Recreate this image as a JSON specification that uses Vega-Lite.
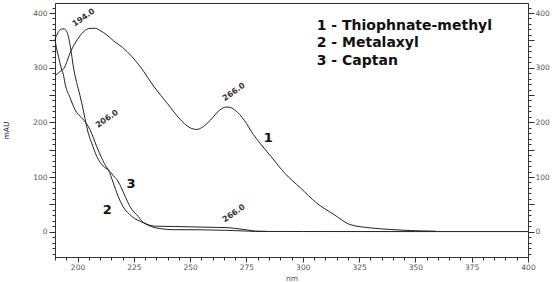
{
  "$schema": "https://vega.github.io/schema/vega-lite/v6.json",
  "width": 473,
  "height": 254,
  "autosize": {"type": "none"},
  "padding": {"left": 55, "top": 3, "right": 28, "bottom": 25},
  "background": "white",
  "config": {
    "view": {"stroke": "#333", "strokeWidth": 1},
    "axis": {
      "grid": false,
      "domainColor": "#333",
      "tickColor": "#333",
      "labelFont": "DejaVu Sans",
      "labelFontSize": 7.5,
      "labelColor": "#555",
      "labelOverlap": false,
      "labelBound": false,
      "labelFlush": false
    }
  },
  "datasets": {
    "spectra": [
      {"nm": 190, "mAU": 285, "series": "1"},
      {"nm": 192, "mAU": 292, "series": "1"},
      {"nm": 194, "mAU": 299, "series": "1"},
      {"nm": 197, "mAU": 330, "series": "1"},
      {"nm": 200, "mAU": 352, "series": "1"},
      {"nm": 202, "mAU": 363, "series": "1"},
      {"nm": 204, "mAU": 370, "series": "1"},
      {"nm": 206, "mAU": 372, "series": "1"},
      {"nm": 208, "mAU": 372, "series": "1"},
      {"nm": 210, "mAU": 368, "series": "1"},
      {"nm": 213, "mAU": 360, "series": "1"},
      {"nm": 216, "mAU": 349, "series": "1"},
      {"nm": 220, "mAU": 337, "series": "1"},
      {"nm": 224, "mAU": 321, "series": "1"},
      {"nm": 228, "mAU": 301, "series": "1"},
      {"nm": 234, "mAU": 265, "series": "1"},
      {"nm": 240, "mAU": 234, "series": "1"},
      {"nm": 245, "mAU": 208, "series": "1"},
      {"nm": 250, "mAU": 190, "series": "1"},
      {"nm": 253, "mAU": 187, "series": "1"},
      {"nm": 255, "mAU": 190, "series": "1"},
      {"nm": 259, "mAU": 204, "series": "1"},
      {"nm": 263, "mAU": 222, "series": "1"},
      {"nm": 266, "mAU": 228, "series": "1"},
      {"nm": 268, "mAU": 227, "series": "1"},
      {"nm": 270, "mAU": 222, "series": "1"},
      {"nm": 274, "mAU": 204, "series": "1"},
      {"nm": 278, "mAU": 178, "series": "1"},
      {"nm": 281, "mAU": 162, "series": "1"},
      {"nm": 286, "mAU": 137, "series": "1"},
      {"nm": 292, "mAU": 107, "series": "1"},
      {"nm": 299, "mAU": 80, "series": "1"},
      {"nm": 306, "mAU": 53, "series": "1"},
      {"nm": 314, "mAU": 31, "series": "1"},
      {"nm": 321, "mAU": 13, "series": "1"},
      {"nm": 330, "mAU": 7, "series": "1"},
      {"nm": 339, "mAU": 4, "series": "1"},
      {"nm": 348, "mAU": 2, "series": "1"},
      {"nm": 359, "mAU": 1, "series": "1"},

      {"nm": 190, "mAU": 352, "series": "2"},
      {"nm": 190.8, "mAU": 333, "series": "2"},
      {"nm": 191.5, "mAU": 321, "series": "2"},
      {"nm": 193, "mAU": 296, "series": "2"},
      {"nm": 193.7, "mAU": 288, "series": "2"},
      {"nm": 194.4, "mAU": 272, "series": "2"},
      {"nm": 196.7, "mAU": 245, "series": "2"},
      {"nm": 198.9, "mAU": 223, "series": "2"},
      {"nm": 201.9, "mAU": 208, "series": "2"},
      {"nm": 203, "mAU": 203, "series": "2"},
      {"nm": 205.5, "mAU": 187, "series": "2"},
      {"nm": 208.5, "mAU": 156, "series": "2"},
      {"nm": 210.7, "mAU": 135, "series": "2"},
      {"nm": 213, "mAU": 117, "series": "2"},
      {"nm": 213.7, "mAU": 113, "series": "2"},
      {"nm": 215.8, "mAU": 90, "series": "2"},
      {"nm": 218, "mAU": 65, "series": "2"},
      {"nm": 220.2, "mAU": 46, "series": "2"},
      {"nm": 224.1, "mAU": 28, "series": "2"},
      {"nm": 229.1, "mAU": 16.5, "series": "2"},
      {"nm": 233, "mAU": 9, "series": "2"},
      {"nm": 237, "mAU": 5.5, "series": "2"},
      {"nm": 242, "mAU": 3.7, "series": "2"},
      {"nm": 254, "mAU": 3.5, "series": "2"},
      {"nm": 266, "mAU": 2.5, "series": "2"},
      {"nm": 276, "mAU": 1, "series": "2"},
      {"nm": 279, "mAU": 0.5, "series": "2"},
      {"nm": 300, "mAU": 0.3, "series": "2"},
      {"nm": 350, "mAU": 0.2, "series": "2"},
      {"nm": 400, "mAU": 0.2, "series": "2"},

      {"nm": 190, "mAU": 352, "series": "3"},
      {"nm": 191.3, "mAU": 364, "series": "3"},
      {"nm": 192.5, "mAU": 370, "series": "3"},
      {"nm": 194, "mAU": 371, "series": "3"},
      {"nm": 195.2, "mAU": 366, "series": "3"},
      {"nm": 196, "mAU": 356, "series": "3"},
      {"nm": 197, "mAU": 334, "series": "3"},
      {"nm": 198.1, "mAU": 303, "series": "3"},
      {"nm": 199.6, "mAU": 273, "series": "3"},
      {"nm": 200.3, "mAU": 262, "series": "3"},
      {"nm": 201.9, "mAU": 235, "series": "3"},
      {"nm": 203.3, "mAU": 207, "series": "3"},
      {"nm": 204.8, "mAU": 180, "series": "3"},
      {"nm": 206.3, "mAU": 162, "series": "3"},
      {"nm": 208.5, "mAU": 138, "series": "3"},
      {"nm": 211.4, "mAU": 120, "series": "3"},
      {"nm": 213.7, "mAU": 113, "series": "3"},
      {"nm": 216, "mAU": 102, "series": "3"},
      {"nm": 218, "mAU": 92, "series": "3"},
      {"nm": 219.5, "mAU": 80, "series": "3"},
      {"nm": 221.1, "mAU": 65, "series": "3"},
      {"nm": 223.3, "mAU": 46, "series": "3"},
      {"nm": 226.9, "mAU": 28, "series": "3"},
      {"nm": 229.2, "mAU": 17, "series": "3"},
      {"nm": 235, "mAU": 10, "series": "3"},
      {"nm": 243, "mAU": 9.5, "series": "3"},
      {"nm": 254, "mAU": 8.5, "series": "3"},
      {"nm": 262, "mAU": 7.8, "series": "3"},
      {"nm": 266, "mAU": 7.5, "series": "3"},
      {"nm": 270, "mAU": 6, "series": "3"},
      {"nm": 275, "mAU": 3.5, "series": "3"},
      {"nm": 279, "mAU": 1, "series": "3"},
      {"nm": 284, "mAU": 0.5, "series": "3"}
    ],
    "peaks": [
      {"nm": 202.8, "mAU": 391, "label": "194.0"},
      {"nm": 213.2, "mAU": 206, "label": "206.0"},
      {"nm": 269.5, "mAU": 255, "label": "266.0"},
      {"nm": 269.5, "mAU": 33, "label": "266.0"}
    ],
    "curveNumbers": [
      {"nm": 284.7, "mAU": 171, "label": "1"},
      {"nm": 213.2, "mAU": 40, "label": "2"},
      {"nm": 223.7, "mAU": 87, "label": "3"}
    ],
    "legend": [
      {"nm": 306.2, "mAU": 375.5, "label": "1 - Thiophnate-methyl"},
      {"nm": 306.2, "mAU": 345, "label": "2 - Metalaxyl"},
      {"nm": 306.2, "mAU": 312.8, "label": "3 - Captan"}
    ]
  },
  "layer": [
    {
      "data": {"name": "spectra"},
      "mark": {"type": "line", "color": "#222", "strokeWidth": 1, "interpolate": "monotone"},
      "encoding": {
        "x": {
          "field": "nm",
          "type": "quantitative",
          "scale": {"domain": [190, 400], "nice": false, "zero": false},
          "axis": {
            "orient": "bottom",
            "values": [190,195,200,205,210,215,220,225,230,235,240,245,250,255,260,265,270,275,280,285,290,295,300,305,310,315,320,325,330,335,340,345,350,355,360,365,370,375,380,385,390,395,400],
            "labelExpr": "datum.value % 25 === 0 && datum.value > 190 ? datum.label : ''",
            "tickSize": {"condition": {"test": "datum.value % 25 === 0", "value": 5}, "value": 3},
            "labelPadding": 1,
            "title": "nm",
            "titleFont": "DejaVu Sans",
            "titleFontSize": 7.5,
            "titleFontWeight": "normal",
            "titleColor": "#555",
            "titlePadding": 4
          }
        },
        "y": {
          "field": "mAU",
          "type": "quantitative",
          "scale": {"domain": [-46.3, 418.3], "nice": false, "zero": false},
          "axis": {
            "orient": "left",
            "values": [-40,-30,-20,-10,0,10,20,30,40,50,60,70,80,90,100,110,120,130,140,150,160,170,180,190,200,210,220,230,240,250,260,270,280,290,300,310,320,330,340,350,360,370,380,390,400,410],
            "labelExpr": "datum.value % 100 === 0 ? datum.label : ''",
            "tickSize": {"condition": {"test": "datum.value % 50 === 0", "value": 6}, "value": 3},
            "labelPadding": 2,
            "title": "mAU",
            "titleFont": "DejaVu Sans",
            "titleFontSize": 7.5,
            "titleFontWeight": "normal",
            "titleColor": "#223",
            "titleX": -49,
            "titleY": 127,
            "titleAngle": -90,
            "titleAlign": "center",
            "titleBaseline": "middle"
          }
        },
        "detail": {"field": "series"}
      }
    },
    {
      "data": {"name": "peaks"},
      "mark": {"type": "text", "font": "DejaVu Sans", "fontSize": 8, "fontWeight": "bold", "color": "#333", "angle": 325, "align": "center", "baseline": "middle"},
      "encoding": {
        "x": {"field": "nm", "type": "quantitative", "axis": null},
        "y": {
          "field": "mAU",
          "type": "quantitative",
          "axis": {
            "orient": "right",
            "values": [-40,-30,-20,-10,0,10,20,30,40,50,60,70,80,90,100,110,120,130,140,150,160,170,180,190,200,210,220,230,240,250,260,270,280,290,300,310,320,330,340,350,360,370,380,390,400,410],
            "labelExpr": "datum.value % 100 === 0 ? datum.label : ''",
            "tickSize": {"condition": {"test": "datum.value % 50 === 0", "value": 6}, "value": 3},
            "labelPadding": 1,
            "title": null
          }
        },
        "text": {"field": "label"}
      }
    },
    {
      "data": {"name": "curveNumbers"},
      "mark": {"type": "text", "font": "DejaVu Sans", "fontSize": 13, "fontWeight": "bold", "color": "#111", "align": "center", "baseline": "middle"},
      "encoding": {
        "x": {"field": "nm", "type": "quantitative", "axis": null},
        "y": {"field": "mAU", "type": "quantitative", "axis": null},
        "text": {"field": "label"}
      }
    },
    {
      "data": {"name": "legend"},
      "mark": {"type": "text", "font": "DejaVu Sans", "fontSize": 14, "fontWeight": "bold", "color": "#111", "align": "left", "baseline": "middle"},
      "encoding": {
        "x": {"field": "nm", "type": "quantitative", "axis": null},
        "y": {"field": "mAU", "type": "quantitative", "axis": null},
        "text": {"field": "label"}
      }
    }
  ],
  "resolve": {"axis": {"x": "independent", "y": "independent"}}
}
